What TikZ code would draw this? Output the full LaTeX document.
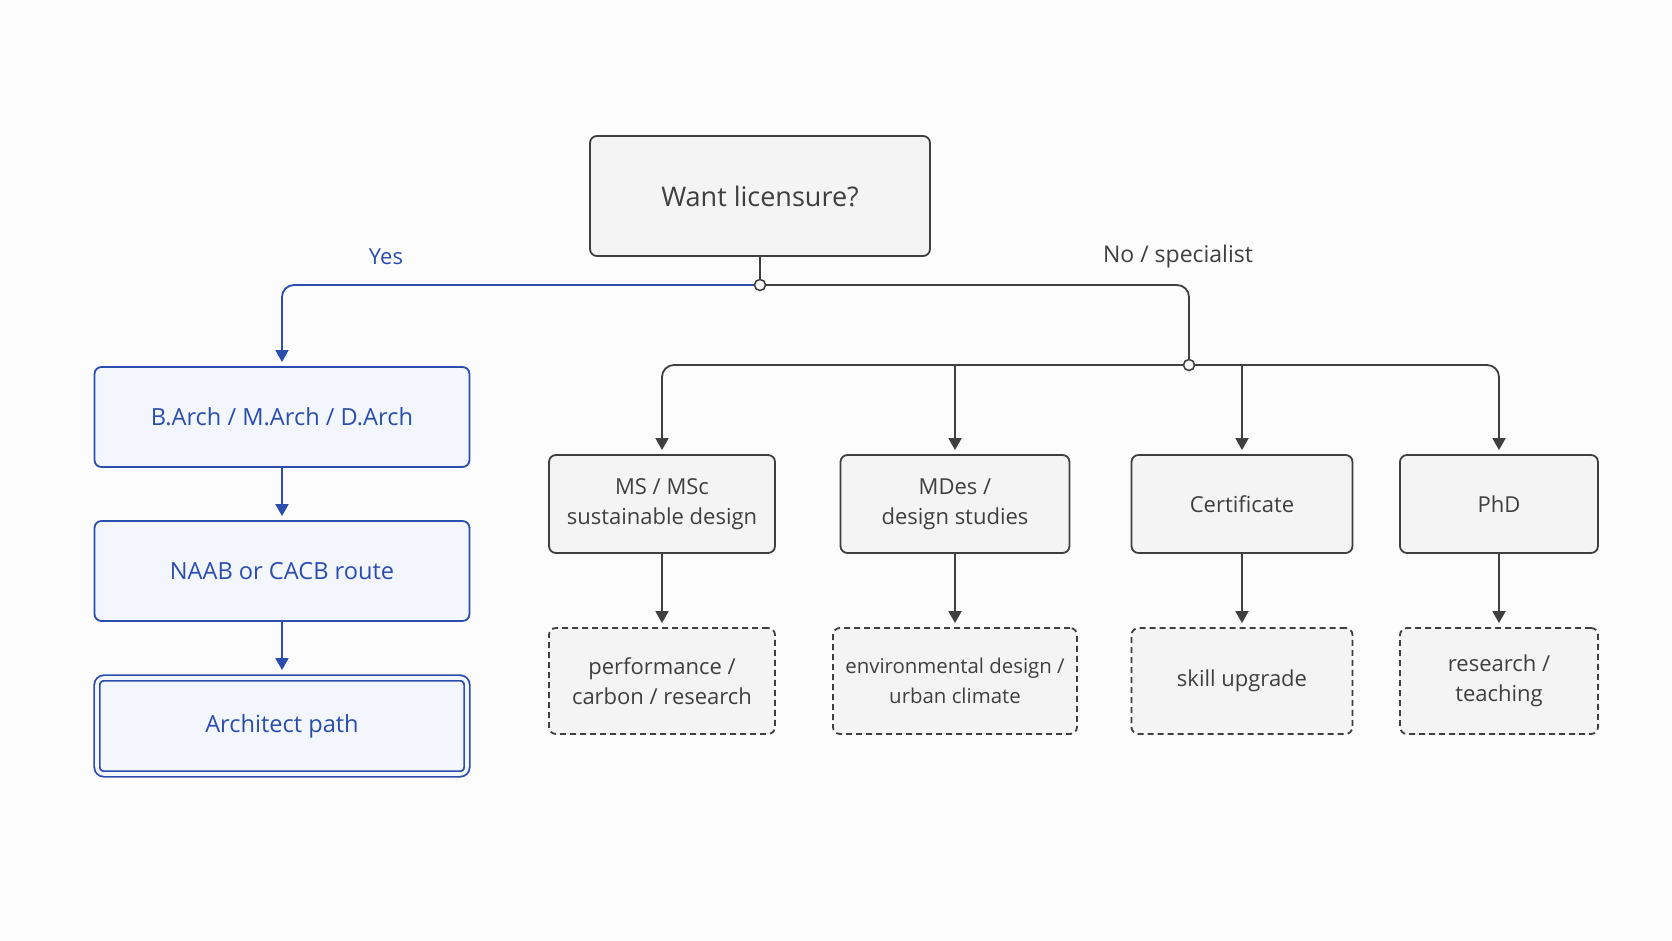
\documentclass[tikz,border=0pt]{standalone}
\usepackage{fontspec}
\setmainfont{Open Sans}
\usetikzlibrary{arrows.meta}

\definecolor{inkgray}{HTML}{3F3F3F}
\definecolor{boxfill}{HTML}{F4F4F4}
\definecolor{archblue}{HTML}{2B4DAE}
\definecolor{bluefill}{HTML}{F3F6FD}
\definecolor{pagebg}{HTML}{FCFCFC}

\tikzset{
  gbox/.style={draw=inkgray, fill=boxfill, line width=0.9pt, rounded corners=3.5pt,
    align=center, text=inkgray, inner sep=0pt, font=\fontsize{11}{15}\selectfont},
  dbox/.style={gbox, dashed, dash pattern=on 3pt off 2pt},
  bbox/.style={gbox, draw=archblue, fill=bluefill, text=archblue,
    minimum width=187.5pt, minimum height=50pt, font=\fontsize{11.8}{15}\selectfont},
  line/.style={line width=0.9pt, draw=inkgray, rounded corners=6pt},
  arr/.style={line, -{Triangle[width=6.5pt,length=6pt]}, shorten >=2pt},
  barr/.style={arr, draw=archblue},
  joint/.style={circle, draw=inkgray, fill=white, line width=0.8pt, inner sep=0pt,
    minimum size=5.5pt},
}

\begin{document}
\begin{tikzpicture}[x=0.5pt, y=-0.5pt]
  \useasboundingbox[fill=pagebg] (0,0) rectangle (1672,941);

  % question
  \node[gbox, minimum width=170pt, minimum height=60pt,
    font=\fontsize{13.5}{15}\selectfont] (lic) at (760,196) {Want licensure?};

  % licensed route
  \node[bbox] (barch) at (282,417) {B.Arch / M.Arch / D.Arch};
  \node[bbox] (naab) at (282,571) {NAAB or CACB route};
  \node[bbox, double=bluefill, double distance=1.8pt, line width=0.9pt,
    minimum width=185pt, minimum height=48pt] (archp) at (282,726) {Architect path};

  % specialist degrees
  \node[gbox, minimum width=113pt, minimum height=49pt] (ms) at (662,504) {MS / MSc\\sustainable design};
  \node[gbox, minimum width=114.5pt, minimum height=49pt] (mdes) at (955,504) {MDes /\\design studies};
  \node[gbox, minimum width=110.5pt, minimum height=49pt] (cert) at (1242,504) {Certificate};
  \node[gbox, minimum width=99pt, minimum height=49pt] (phd) at (1499,504) {PhD};

  % outcomes
  \node[dbox, minimum width=113pt, minimum height=53pt] (perf) at (662,681) {performance /\\carbon / research};
  \node[dbox, minimum width=122pt, minimum height=53pt,
    font=\fontsize{10.2}{15}\selectfont] (envd) at (955,681) {environmental design /\\urban climate};
  \node[dbox, minimum width=110.5pt, minimum height=53pt] (skill) at (1242,681) {skill upgrade};
  \node[dbox, minimum width=99pt, minimum height=53pt] (teach) at (1499,681) {research /\\teaching};

  % junctions
  \coordinate (j1) at (760,285);
  \coordinate (j2) at (1189,365);

  \draw[line] (lic.south) -- (j1);
  \draw[barr] (j1) -| (barch.north);
  \draw[line] (j1) -| (j2);
  \draw[arr] (j2) -| (ms.north);
  \draw[arr] (j2) -| (phd.north);
  \draw[arr] (mdes.north |- j2) -- (mdes.north);
  \draw[arr] (cert.north |- j2) -- (cert.north);

  \draw[barr] (barch) -- (naab);
  \draw[barr, shorten >=3.5pt] (naab) -- (archp);

  \draw[arr] (ms) -- (perf);
  \draw[arr] (mdes) -- (envd);
  \draw[arr] (cert) -- (skill);
  \draw[arr] (phd) -- (teach);

  \node[joint] at (j1) {};
  \node[joint] at (j2) {};

  \node[text=archblue, font=\fontsize{11}{12}\selectfont] (yes) at (386,257) {Yes};
  \node[text=inkgray, font=\fontsize{11.5}{12}\selectfont] (no) at (1178,257) {No / specialist};
\end{tikzpicture}
\end{document}
